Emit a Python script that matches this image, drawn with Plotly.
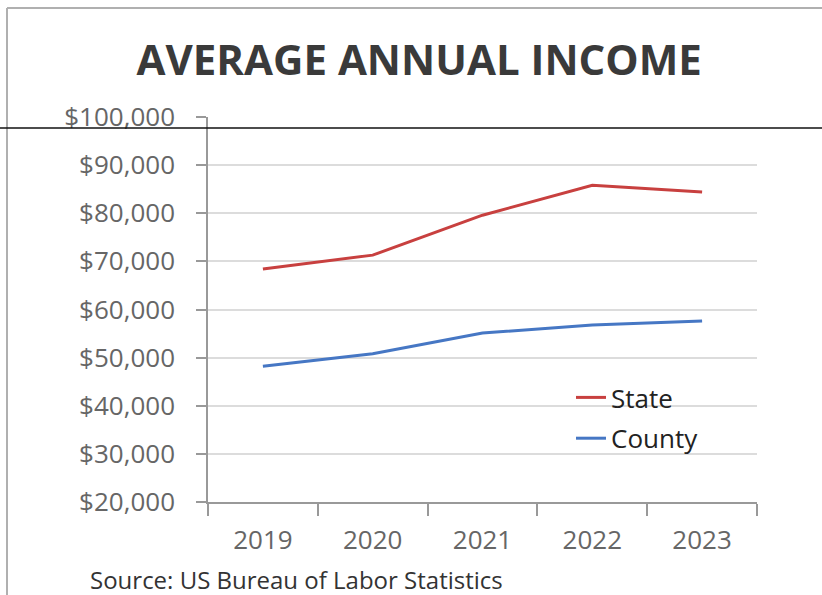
import plotly.graph_objects as go

years = ["2019", "2020", "2021", "2022", "2023"]
state = [68400, 71300, 79600, 85800, 84400]
county = [48200, 50800, 55100, 56800, 57600]
y_ticks = [20000, 30000, 40000, 50000, 60000, 70000, 80000, 90000, 100000]
y_labels = ["$20,000", "$30,000", "$40,000", "$50,000", "$60,000", "$70,000", "$80,000", "$90,000", "$100,000"]

W, H = 822, 595
L, R, T, B = 208, 65, 117, 93
pw, ph = W - L - R, H - T - B

def px(x):
    return (x - L) / pw

def py(y):
    return (H - B - y) / ph

fig = go.Figure()
fig.add_trace(go.Scatter(x=years, y=state, mode="lines", name="State", legendgroup="a",
                         line=dict(color="#c8403f", width=3)))
fig.add_trace(go.Scatter(x=years, y=county, mode="lines", name="County", legendgroup="b",
                         line=dict(color="#4677c4", width=3)))

font = "Open Sans, Noto Sans, sans-serif"
fig.update_layout(
    width=W, height=H,
    margin=dict(l=L, r=R, t=T, b=B),
    paper_bgcolor="white", plot_bgcolor="white",
    showlegend=True,
    legend=dict(x=px(571), y=py(374), xanchor="left", yanchor="top",
                bgcolor="rgba(0,0,0,0)", font=dict(family=font, size=26, color="#222"),
                traceorder="grouped", tracegroupgap=4, itemwidth=30),
    title=dict(text="<b>AVERAGE ANNUAL INCOME</b>", x=0.51, xanchor="center",
               y=1 - 60 / H, yanchor="middle",
               font=dict(family=font, size=42, color="#3a3a3a")),
    xaxis=dict(type="category", range=[-0.5, 4.5], tickson="boundaries", ticks="outside", ticklen=12,
               tickcolor="#999", tickwidth=1.5, showline=True, linecolor="#999", linewidth=1.5,
               showgrid=False, tickfont=dict(family=font, size=26, color="#666"),
               ticklabelstandoff=14, fixedrange=True),
    yaxis=dict(range=[20000, 100000], tickvals=y_ticks, ticktext=y_labels,
               ticks="outside", ticklen=10, tickcolor="#999", tickwidth=1.5,
               showline=True, linecolor="#999", linewidth=1.5,
               showgrid=True, gridcolor="#dcdcdc", gridwidth=1.5, zeroline=False,
               tickfont=dict(family=font, size=26, color="#666"),
               ticklabelstandoff=16, fixedrange=True),
    annotations=[dict(text="Source: US Bureau of Labor Statistics", xref="paper", yref="paper",
                      x=px(88), y=py(579), xanchor="left", yanchor="middle", showarrow=False,
                      font=dict(family=font, size=24, color="#333"))],
    shapes=[
        dict(type="line", xref="paper", yref="paper", x0=px(7), x1=px(822), y0=py(8), y1=py(8),
             line=dict(color="#b0b0b0", width=2)),
        dict(type="line", xref="paper", yref="paper", x0=px(7), x1=px(7), y0=py(8), y1=py(595),
             line=dict(color="#b0b0b0", width=2)),
        dict(type="line", xref="paper", yref="paper", x0=px(0), x1=px(822), y0=py(128), y1=py(128),
             line=dict(color="#111", width=1.5)),
    ],
)

fig.write_html("out.html")
